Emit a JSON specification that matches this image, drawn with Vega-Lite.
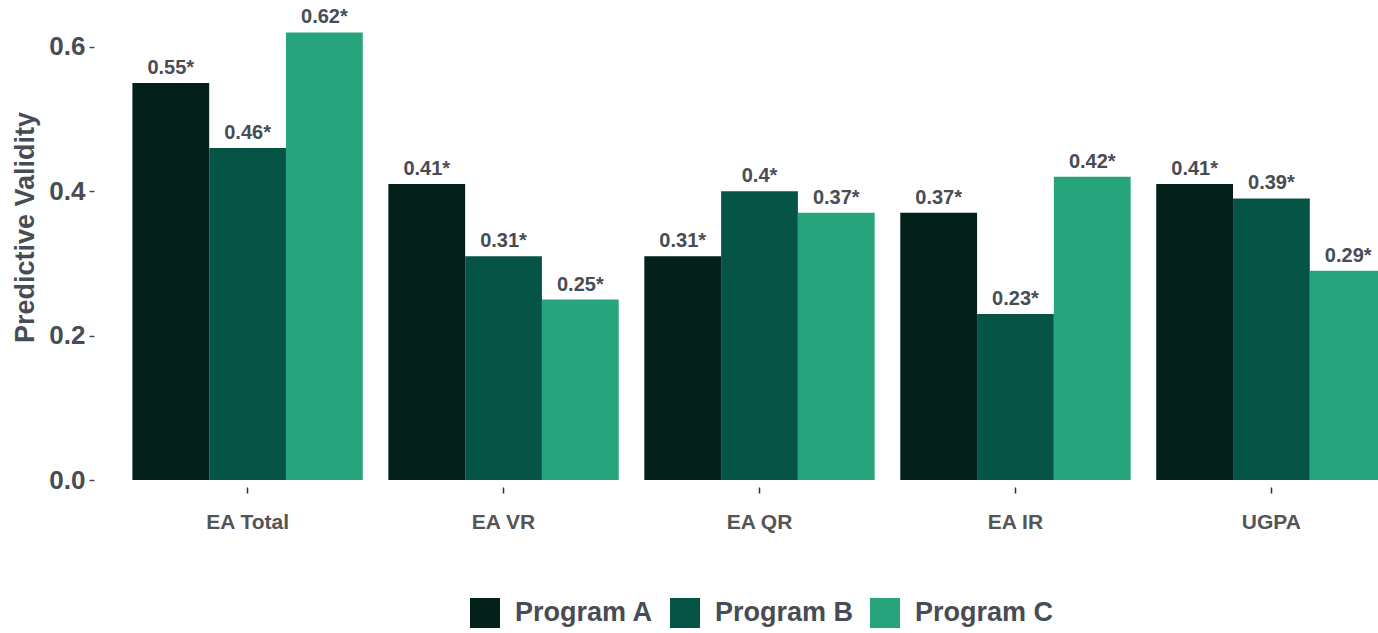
{
  "$schema": "https://vega.github.io/schema/vega-lite/v6.json",
  "autosize": "none",
  "width": 1284,
  "height": 470,
  "padding": {"left": 94, "top": 10, "right": 0, "bottom": 153},
  "background": "white",
  "config": {
    "view": {"stroke": null},
    "font": "Liberation Sans",
    "axis": {"grid": false, "domain": false}
  },
  "data": {
    "values": [
      {"measure": "EA Total", "program": "Program A", "value": 0.55},
      {"measure": "EA Total", "program": "Program B", "value": 0.46},
      {"measure": "EA Total", "program": "Program C", "value": 0.62},
      {"measure": "EA VR", "program": "Program A", "value": 0.41},
      {"measure": "EA VR", "program": "Program B", "value": 0.31},
      {"measure": "EA VR", "program": "Program C", "value": 0.25},
      {"measure": "EA QR", "program": "Program A", "value": 0.31},
      {"measure": "EA QR", "program": "Program B", "value": 0.4},
      {"measure": "EA QR", "program": "Program C", "value": 0.37},
      {"measure": "EA IR", "program": "Program A", "value": 0.37},
      {"measure": "EA IR", "program": "Program B", "value": 0.23},
      {"measure": "EA IR", "program": "Program C", "value": 0.42},
      {"measure": "UGPA", "program": "Program A", "value": 0.41},
      {"measure": "UGPA", "program": "Program B", "value": 0.39},
      {"measure": "UGPA", "program": "Program C", "value": 0.29}
    ]
  },
  "transform": [{"calculate": "datum.value + '*'", "as": "label"}],
  "encoding": {
    "x": {
      "field": "measure",
      "type": "nominal",
      "sort": ["EA Total", "EA VR", "EA QR", "EA IR", "UGPA"],
      "scale": {"range": [0, 1331], "paddingInner": 0.1, "paddingOuter": 0.15},
      "axis": {
        "title": null,
        "labelAngle": 0,
        "labelFontSize": 21,
        "labelFontWeight": "bold",
        "labelColor": "#555555",
        "offset": 7,
        "tickSize": 6,
        "tickWidth": 1.5,
        "tickColor": "#333333",
        "labelPadding": 18
      }
    },
    "xOffset": {"field": "program", "type": "nominal", "scale": {"paddingInner": 0, "paddingOuter": 0}},
    "y": {
      "field": "value",
      "type": "quantitative",
      "scale": {"domain": [0, 0.651], "nice": false, "zero": true},
      "axis": {
        "title": "Predictive Validity",
        "titleFontSize": 27,
        "titleFontWeight": "bold",
        "titleColor": "#474c55",
        "titleY": 217,
        "titlePadding": 9,
        "values": [0, 0.2, 0.4, 0.6],
        "format": ".1f",
        "labelFontSize": 26,
        "labelFontWeight": "bold",
        "labelColor": "#474c55",
        "tickSize": 5,
        "tickColor": "#474c55",
        "tickWidth": 1.5,
        "labelPadding": 4
      }
    }
  },
  "layer": [
    {
      "mark": {"type": "bar"},
      "encoding": {
        "color": {
          "field": "program",
          "type": "nominal",
          "scale": {"domain": ["Program A", "Program B", "Program C"], "range": ["#04201b", "#065446", "#27a47c"]},
          "legend": {
            "title": null,
            "orient": "none",
            "direction": "horizontal",
            "legendX": 376,
            "legendY": 588,
            "symbolType": "square",
            "symbolSize": 900,
            "symbolStrokeWidth": 0,
            "symbolOpacity": 1,
            "labelFontSize": 27,
            "labelFontWeight": "bold",
            "labelColor": "#474c55",
            "labelOffset": 15,
            "columnPadding": 16
          }
        }
      }
    },
    {
      "mark": {"type": "text", "dy": -9, "baseline": "alphabetic", "fontSize": 20, "fontWeight": "bold", "color": "#474c55"},
      "encoding": {"text": {"field": "label"}}
    }
  ]
}
